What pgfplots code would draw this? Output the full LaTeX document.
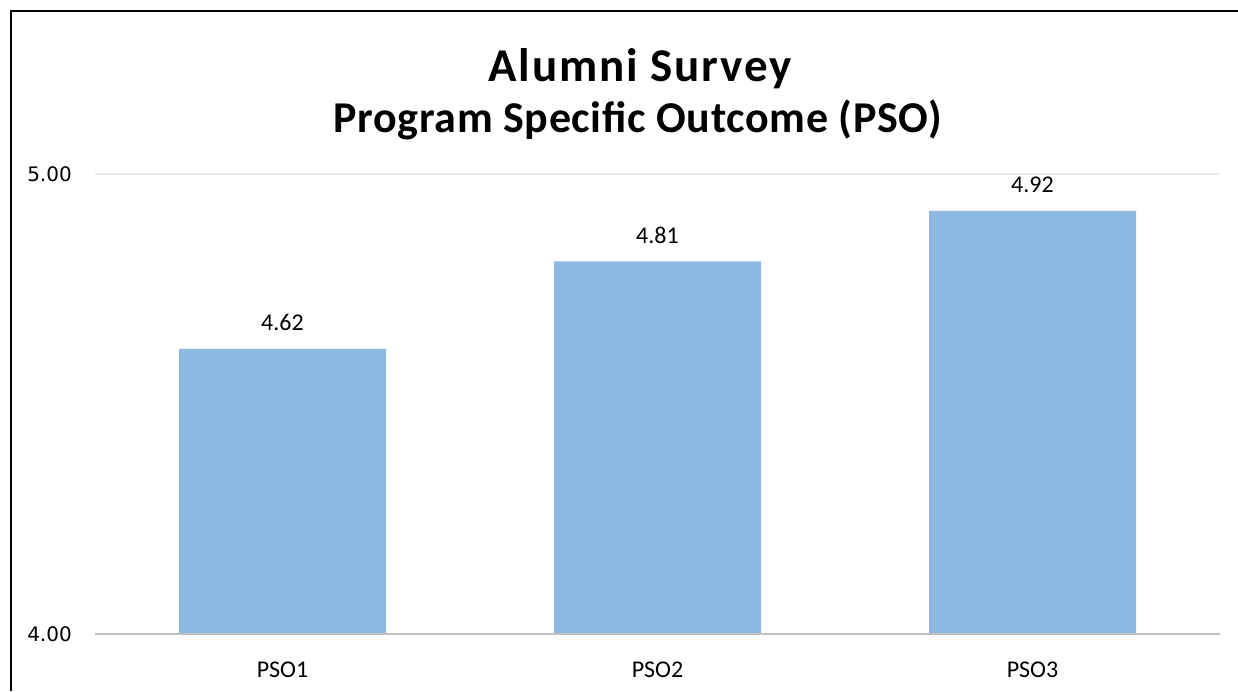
\documentclass[border=0pt]{standalone}
\usepackage{fontspec}
\setmainfont{Carlito}
\newfontfamily\dejavu{DejaVu Sans}
\newfontfamily\titlefontA[LetterSpace=4]{Carlito}
\newfontfamily\titlefontB[LetterSpace=1.5]{Carlito}
\usepackage{pgfplots}
\pgfplotsset{compat=1.18}
\definecolor{barblue}{RGB}{141,184,226}
\definecolor{gridgray}{RGB}{235,235,235}
\definecolor{axisgray}{RGB}{191,191,191}
\begin{document}
\begin{tikzpicture}[x=1pt,y=1pt]
\useasboundingbox (0,0) rectangle (1238,691);
\fill[white] (0,0) rectangle (1238,691);
\draw[line width=2.2pt] (11,0) -- (11,680) -- (1240,680);
\node[anchor=base, font=\titlefontA\fontsize{47}{47}\selectfont\bfseries] at (640,609) {Alumni Survey};
\node[anchor=base, font=\titlefontB\fontsize{44}{44}\selectfont\bfseries] at (638,558) {Program Specific Outcome (PSO)};
\begin{axis}[
  at={(95pt,57pt)}, anchor=south west,
  width=1125pt, height=460pt, scale only axis,
  xmin=-0.5, xmax=2.5, ymin=4, ymax=5,
  axis line style={draw=none}, tick style={draw=none},
  ytick={5}, yticklabels={5.00},
  extra y ticks={4}, extra y tick labels={4.00},
  extra y tick style={grid=none},
  ymajorgrids, grid style={gridgray, line width=1.2pt},
  yticklabel style={font=\dejavu\fontsize{20}{20}\selectfont, anchor=east, inner sep=0pt, xshift=-23pt},
  xtick={0,1,2}, xticklabels={PSO1,PSO2,PSO3},
  xticklabel style={font=\fontsize{24}{24}\selectfont, anchor=base, inner sep=0pt, yshift=-39pt},
  /pgf/number format/assume math mode=true,
  ybar, bar width=207pt, bar shift=0pt,
  nodes near coords,
  nodes near coords style={font=\fontsize{24}{24}\selectfont, anchor=base, inner sep=0pt, yshift=18pt,
    /pgf/number format/.cd, fixed, fixed zerofill, precision=2},
]
\addplot[fill=barblue, draw=none] coordinates {(0,4.62) (1,4.81) (2,4.92)};
\draw[axisgray, line width=3pt] (axis cs:-0.5,4) -- (axis cs:2.5,4);
\end{axis}
\end{tikzpicture}
\end{document}
